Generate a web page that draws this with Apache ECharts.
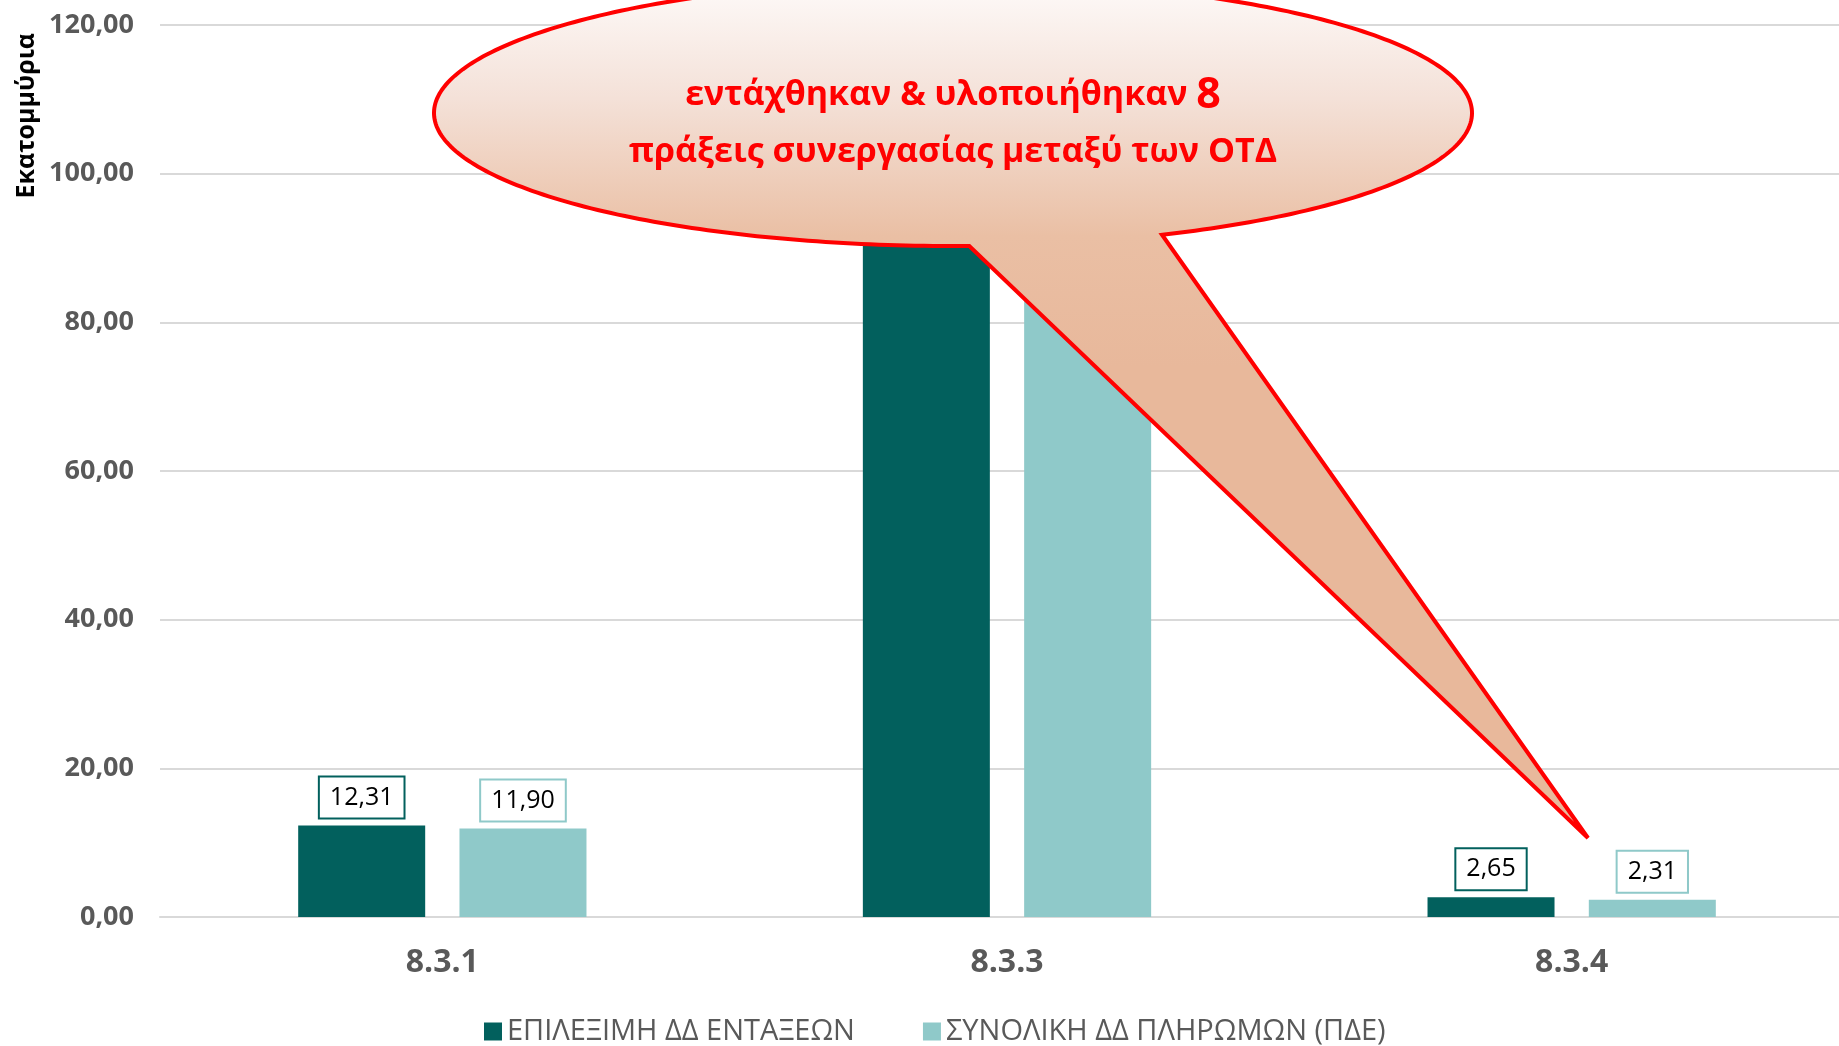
<!DOCTYPE html>
<html>
<head>
<meta charset="utf-8">
<script src="https://cdn.jsdelivr.net/npm/echarts@6/dist/echarts.min.js"></script>
<style>
  html, body { margin: 0; padding: 0; background: #fff; }
  #chart { width: 1839px; height: 1046px; }
</style>
</head>
<body>
<div id="chart"></div>
<script>
const categories = ['8.3.1', '8.3.3', '8.3.4']
const seriesNames = ['ΕΠΙΛΕΞΙΜΗ ΔΔ ΕΝΤΑΞΕΩΝ', 'ΣΥΝΟΛΙΚΗ ΔΔ ΠΛΗΡΩΜΩΝ (ΠΔΕ)']
// 8.3.3 values sit behind the callout in the original, estimated
const eligible = [12.31, 97.6, 2.65]
const payments = [11.90, 93.2, 2.31]
const yTicks = { min: 0, max: 120, interval: 20 }

const darkColor = '#02605d'
const lightColor = '#8fc9c9'
const fmt = v => Number(v).toFixed(2).replace('.', ',')

// speech bubble outline: ellipse arc from the tail's left base round to its right base, then the tip
function bubblePoints() {
  const cx = 953, cy = 113, rx = 519, ry = 133
  const t1 = 88.2, t2 = 360 + 66.25
  const pts = []
  for (let t = t1; t <= t2; t += 1) {
    const a = t * Math.PI / 180
    pts.push([cx + rx * Math.cos(a), cy + ry * Math.sin(a)])
  }
  const a2 = t2 * Math.PI / 180
  pts.push([cx + rx * Math.cos(a2), cy + ry * Math.sin(a2)])
  pts.push([1588, 838])
  return pts
}

const chart = echarts.init(document.getElementById('chart'))

function barLabel(color) {
  return {
    show: true,
    position: 'top',
    distance: 8,
    formatter: p => fmt(p.value),
    color: '#000',
    fontFamily: 'Open Sans',
    fontSize: 25,
    lineHeight: 28,
    backgroundColor: '#fff',
    borderColor: color,
    borderWidth: 2,
    padding: [6, 10]
  }
}

chart.setOption({
  animation: false,
  textStyle: { fontFamily: 'Open Sans' },
  grid: {
    left: 160, width: 1694, top: 25, bottom: 129,
    containLabel: false,
    outerBoundsMode: 'none'
  },
  legend: {
    left: 484,
    top: 1017,
    padding: 0,
    itemWidth: 18,
    itemHeight: 18,
    itemGap: 68,
    icon: 'rect',
    textStyle: { color: '#595959', fontSize: 29, fontFamily: 'Open Sans' },
    data: seriesNames
  },
  xAxis: {
    type: 'category',
    data: categories,
    axisTick: { show: false },
    axisLine: { lineStyle: { color: '#d9d9d9', width: 2 } },
    axisLabel: { color: '#595959', fontWeight: 'bold', fontSize: 32, margin: 30 }
  },
  yAxis: {
    type: 'value',
    min: yTicks.min,
    max: yTicks.max,
    interval: yTicks.interval,
    axisLine: { show: false },
    axisTick: { show: false },
    splitLine: { lineStyle: { color: '#d9d9d9', width: 2 } },
    axisLabel: {
      color: '#595959',
      fontWeight: 'bold',
      fontSize: 27,
      margin: 26,
      formatter: v => fmt(v)
    }
  },
  series: [
    {
      name: seriesNames[0],
      type: 'bar',
      data: eligible,
      barWidth: 127,
      barGap: '27%',
      itemStyle: { color: darkColor },
      label: barLabel(darkColor)
    },
    {
      name: seriesNames[1],
      type: 'bar',
      data: payments,
      barWidth: 127,
      itemStyle: { color: lightColor },
      label: barLabel(lightColor)
    }
  ],
  graphic: [
    {
      type: 'text',
      left: 14,
      top: 33,
      rotation: Math.PI / 2,
      style: {
        text: 'Εκατομμύρια',
        fill: '#000',
        fontWeight: 'bold',
        fontSize: 25,
        fontFamily: 'Open Sans'
      }
    },
    {
      type: 'polygon',
      z: 100,
      shape: { points: bubblePoints() },
      style: {
        fill: {
          type: 'linear', x: 0, y: 0, x2: 0, y2: 1,
          colorStops: [
            { offset: 0, color: '#fefbfa' },
            { offset: 0.14, color: '#f4e1d8' },
            { offset: 0.3, color: '#eabfa4' },
            { offset: 0.45, color: '#e8b89b' },
            { offset: 1, color: '#e8b89b' }
          ]
        },
        stroke: '#ff0000',
        lineWidth: 4,
        lineJoin: 'miter'
      }
    },
    {
      type: 'text',
      z: 101,
      x: 953,
      y: 124,
      style: {
        text: '{a|εντάχθηκαν & υλοποιήθηκαν }{b|8}\n{a|πράξεις συνεργασίας μεταξύ των ΟΤΔ}',
        align: 'center',
        verticalAlign: 'middle',
        rich: {
          a: { fontSize: 34, fontWeight: 'bold', fill: '#ff0000', fontFamily: 'Open Sans', lineHeight: 57 },
          b: { fontSize: 43, fontWeight: 'bold', fill: '#ff0000', fontFamily: 'Open Sans', lineHeight: 57 }
        }
      }
    }
  ]
})
</script>
</body>
</html>
